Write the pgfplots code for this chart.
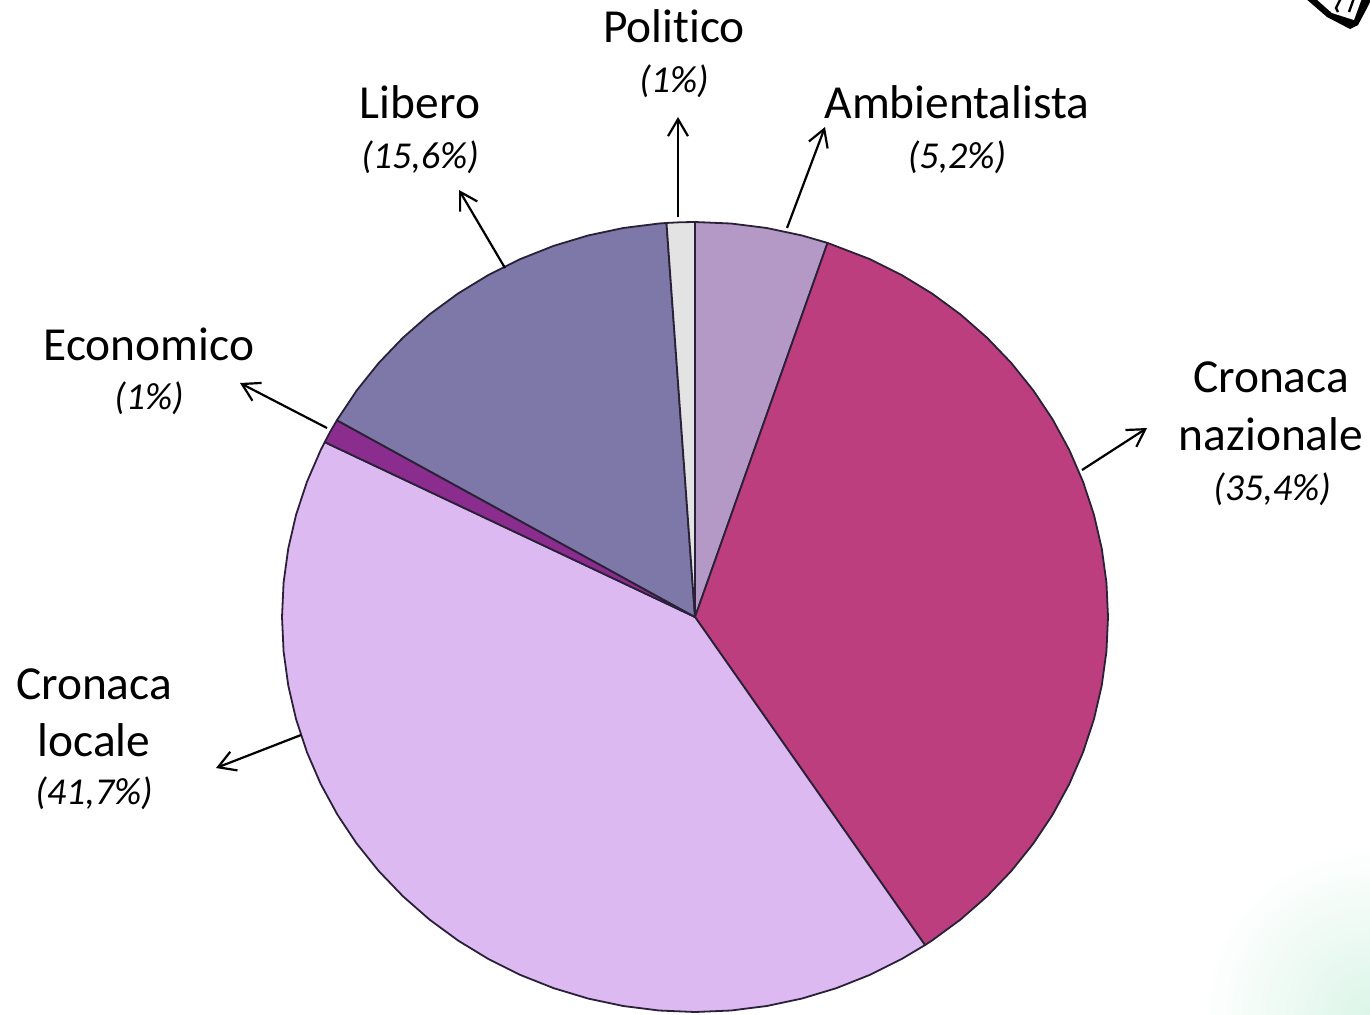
\documentclass[border=0pt]{standalone}
\usepackage{fontspec}
\setmainfont[Ligatures=NoCommon]{Carlito}
\usepackage{pgfplots}
\pgfplotsset{compat=1.18}
\usetikzlibrary{arrows.meta}
\definecolor{cAmb}{HTML}{B499C6}
\definecolor{cNaz}{HTML}{BC3E7E}
\definecolor{cLoc}{HTML}{DDB9F1}
\definecolor{cEco}{HTML}{8B2D8E}
\definecolor{cLib}{HTML}{7D78A8}
\definecolor{cPol}{HTML}{E3E3E3}
\definecolor{cEdge}{HTML}{2A2038}
\definecolor{cGreen}{HTML}{DCF5E8}
\pgfplotsset{
  sheet/.style={scale only axis,width=685pt,height=507pt,at={(0,0)},anchor=south west,hide axis,clip=false},
  wedge/.style={draw=cEdge,line width=0.9pt,line join=round,fill=#1,data cs=polar},
}
\tikzset{
  arr/.style={-{Straight Barb[length=8.5pt,width=10pt,line width=1.1pt]},line width=1.1pt,black},
  lab/.style={anchor=base,font=\fontsize{23.7}{26}\selectfont},
  pct/.style={anchor=base,font=\fontsize{19}{21}\selectfont\itshape},
}
\begin{document}
\begin{tikzpicture}
\clip (0,0) rectangle (685pt,507pt);
\shade[inner color=cGreen,outer color=white] (685pt,0) circle (85pt);
% pie: radius 1 = 413 x 395 px, centre at pixel (695,617)
\begin{axis}[sheet,xmin=-1.68281,xmax=1.63438,ymin=-1.00506,ymax=1.56203]
% Ambientalista 5.2
\addplot[wedge=cAmb] coordinates {(0,0)(90,1)(85,1)(80,1)(75,1)(71.28,1)} -- cycle;
% Cronaca nazionale 35.4
\addplot[wedge=cNaz] coordinates {(0,0)(71.28,1)(65,1)(60,1)(55,1)(50,1)(45,1)(40,1)(35,1)(30,1)(25,1)(20,1)(15,1)(10,1)(5,1)(0,1)
 (-5,1)(-10,1)(-15,1)(-20,1)(-25,1)(-30,1)(-35,1)(-40,1)(-45,1)(-50,1)(-55,1)(-56.16,1)} -- cycle;
% Cronaca locale 41.7
\addplot[wedge=cLoc] coordinates {(0,0)(-56.16,1)(-60,1)(-65,1)(-70,1)(-75,1)(-80,1)(-85,1)(-90,1)(-95,1)(-100,1)(-105,1)(-110,1)(-115,1)(-120,1)
 (-125,1)(-130,1)(-135,1)(-140,1)(-145,1)(-150,1)(-155,1)(-160,1)(-165,1)(-170,1)(-175,1)(-180,1)(-185,1)(-190,1)(-195,1)(-200,1)(-205,1)(-206.28,1)} -- cycle;
% Economico 1
\addplot[wedge=cEco] coordinates {(0,0)(-206.28,1)(-208,1)(-209.88,1)} -- cycle;
% Libero 15.6
\addplot[wedge=cLib] coordinates {(0,0)(-209.88,1)(-215,1)(-220,1)(-225,1)(-230,1)(-235,1)(-240,1)(-245,1)(-250,1)(-255,1)(-260,1)(-265,1)(-266.04,1)} -- cycle;
% Politico 1
\addplot[wedge=cPol] coordinates {(0,0)(-266.04,1)(-268,1)(-270,1)} -- cycle;
\end{axis}
% labels and arrows, in pixels of the reference
\begin{axis}[sheet,xmin=0,xmax=1370,ymin=0,ymax=1014,y dir=reverse]
\addplot[arr] coordinates {(678,217)(678,117)};
\addplot[arr] coordinates {(787,228)(825,127)};
\addplot[arr] coordinates {(505,268)(459,190)};
\addplot[arr] coordinates {(327,428)(240,383)};
\addplot[arr] coordinates {(1082,470)(1147,428)};
\addplot[arr] coordinates {(301,735)(216,768)};
\node[lab] at (axis cs:674,42) {Politico};
\node[pct] at (axis cs:674,92) {(1\%)};
\node[lab] at (axis cs:420,118) {Libero};
\node[pct] at (axis cs:420,168) {(15,6\%)};
\node[lab] at (axis cs:957,118) {Ambientalista};
\node[pct] at (axis cs:957,168) {(5,2\%)};
\node[lab] at (axis cs:149,360) {Economico};
\node[pct] at (axis cs:149,409) {(1\%)};
\node[lab] at (axis cs:1271,392) {Cronaca};
\node[lab] at (axis cs:1271,450) {nazionale};
\node[pct] at (axis cs:1272,500) {(35,4\%)};
\node[lab] at (axis cs:94,699) {Cronaca};
\node[lab] at (axis cs:94,756) {locale};
\node[pct] at (axis cs:94,804) {(41,7\%)};
% corner of the clip-art at top right
\addplot[fill=black,draw=none] coordinates {(1305,-2)(1327,17)(1350,29)(1358,25)(1366,10)(1372,-2)} -- cycle;
\addplot[fill=white,draw=none] coordinates {(1315,-2)(1332,13)(1354,20)(1362,-2)} -- cycle;
\addplot[black,line width=1.2pt] coordinates {(1341,-2)(1336,8)(1338,12)};
\addplot[black,line width=1.2pt] coordinates {(1354,-2)(1349,12)};
\end{axis}
\end{tikzpicture}
\end{document}
